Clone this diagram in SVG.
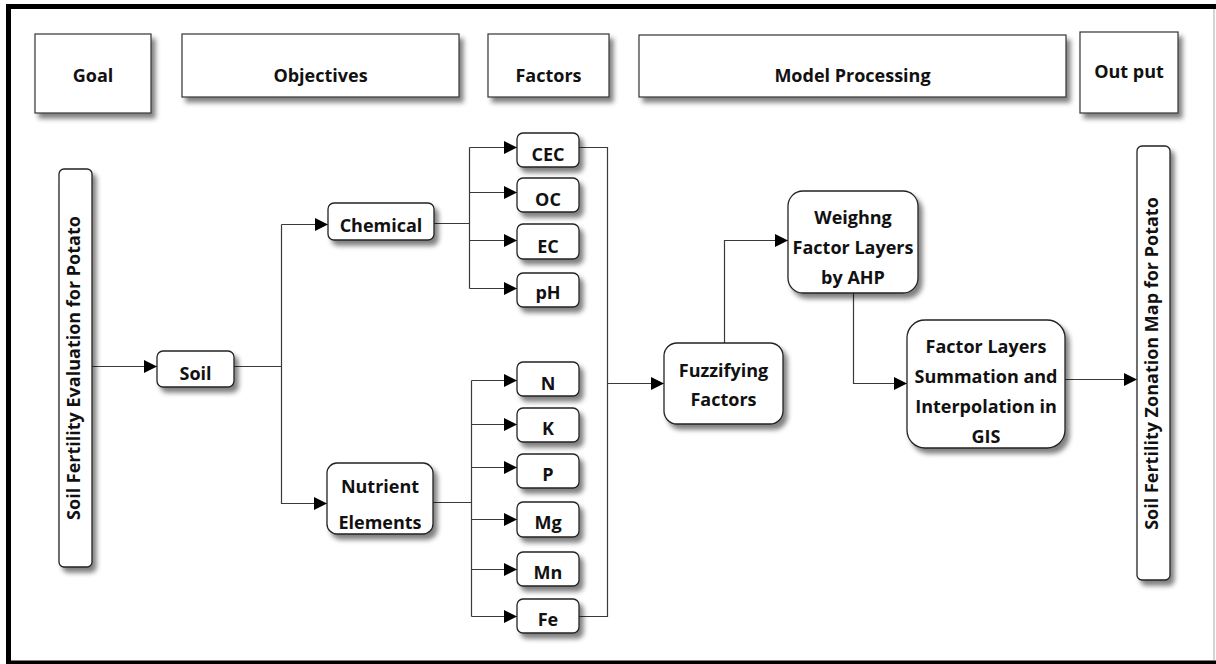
<svg xmlns="http://www.w3.org/2000/svg" width="1216" height="664" viewBox="0 0 1216 664">
<style>
.hdr{fill:#fff;stroke:#333;stroke-width:1.2;filter:url(#sh)}
.nd{fill:#fff;stroke:#222;stroke-width:1.3;filter:url(#sh)}
.t{font-family:"Open Sans","Noto Sans","Liberation Sans",sans-serif;font-weight:bold;font-size:18px;fill:#111;text-anchor:middle}
.c{fill:none;stroke:#3a3a3a;stroke-width:1.2}
</style>
<defs>
<filter id="sh" x="-20%" y="-20%" width="150%" height="150%">
<feGaussianBlur in="SourceAlpha" stdDeviation="2.5"/>
<feOffset dx="4" dy="5" result="b"/>
<feComponentTransfer><feFuncA type="linear" slope="0.5"/></feComponentTransfer>
<feMerge><feMergeNode/><feMergeNode in="SourceGraphic"/></feMerge>
</filter>
<marker id="ar" markerUnits="userSpaceOnUse" markerWidth="14" markerHeight="14" refX="13" refY="6.5" orient="auto">
<path d="M0,0 L13,6.5 L0,13 z" fill="#000"/>
</marker>
</defs>
<rect width="1216" height="664" fill="#fff"/>
<rect x="8.5" y="6.5" width="1214" height="656.5" fill="none" stroke="#000" stroke-width="5"/>
<line x1="1214" y1="9" x2="1214" y2="660" stroke="#aaa" stroke-width="1"/>

<g id="hdr-goal"><rect class="hdr" x="35" y="34" width="116" height="79"/><text class="t" x="93" y="82">Goal</text></g>
<g id="hdr-objectives"><rect class="hdr" x="182" y="34" width="277" height="63"/><text class="t" x="320.5" y="82">Objectives</text></g>
<g id="hdr-factors"><rect class="hdr" x="488" y="34" width="121" height="63"/><text class="t" x="548.5" y="82">Factors</text></g>
<g id="hdr-model"><rect class="hdr" x="639" y="35" width="427" height="62"/><text class="t" x="852.5" y="82">Model Processing</text></g>
<g id="hdr-output"><rect class="hdr" x="1080" y="32" width="98" height="81"/><text class="t" x="1129" y="78">Out put</text></g>

<g id="connectors">
<line class="c" x1="92" y1="366.5" x2="157" y2="366.5" marker-end="url(#ar)"/>
<polyline class="c" points="234,366.5 281.5,366.5"/>
<polyline class="c" points="281.5,224.5 281.5,503.5 327,503.5" marker-end="url(#ar)"/>
<line class="c" x1="281.5" y1="224.5" x2="328" y2="224.5" marker-end="url(#ar)"/>
<polyline class="c" points="434,223.5 469.5,223.5"/>
<line class="c" x1="469.5" y1="147.5" x2="469.5" y2="288.5"/>
<line class="c" x1="469.5" y1="147.5" x2="517" y2="147.5" marker-end="url(#ar)"/>
<line class="c" x1="469.5" y1="192.5" x2="517" y2="192.5" marker-end="url(#ar)"/>
<line class="c" x1="469.5" y1="240.5" x2="517" y2="240.5" marker-end="url(#ar)"/>
<line class="c" x1="469.5" y1="288.5" x2="517" y2="288.5" marker-end="url(#ar)"/>
<polyline class="c" points="433,502.5 471.5,502.5"/>
<line class="c" x1="471.5" y1="380.5" x2="471.5" y2="616.5"/>
<line class="c" x1="471.5" y1="380.5" x2="517" y2="380.5" marker-end="url(#ar)"/>
<line class="c" x1="471.5" y1="424.5" x2="517" y2="424.5" marker-end="url(#ar)"/>
<line class="c" x1="471.5" y1="467.5" x2="517" y2="467.5" marker-end="url(#ar)"/>
<line class="c" x1="471.5" y1="519.5" x2="517" y2="519.5" marker-end="url(#ar)"/>
<line class="c" x1="471.5" y1="569.5" x2="517" y2="569.5" marker-end="url(#ar)"/>
<line class="c" x1="471.5" y1="616.5" x2="517" y2="616.5" marker-end="url(#ar)"/>
<polyline class="c" points="579,147.5 607.5,147.5 607.5,616.5 578,616.5"/>
<line class="c" x1="607.5" y1="383.5" x2="664" y2="383.5" marker-end="url(#ar)"/>
<polyline class="c" points="724.5,343 724.5,240.5 788,240.5" marker-end="url(#ar)"/>
<polyline class="c" points="853.5,293 853.5,383.5 907,383.5" marker-end="url(#ar)"/>
<line class="c" x1="1065" y1="379.5" x2="1137" y2="379.5" marker-end="url(#ar)"/>
</g>

<g id="goal"><rect class="nd" x="59" y="169" width="33" height="398" rx="5"/><text class="t" transform="translate(80,368) rotate(-90)">Soil Fertility Evaluation for Potato</text></g>
<g id="soil"><rect class="nd" x="157" y="351" width="77" height="36" rx="6"/><text class="t" x="195.5" y="380">Soil</text></g>
<g id="chemical"><rect class="nd" x="328" y="203" width="106" height="37" rx="6"/><text class="t" x="381" y="232">Chemical</text></g>
<g id="nutrient"><rect class="nd" x="327" y="463" width="106" height="71" rx="10"/><text class="t" x="380" y="493">Nutrient</text><text class="t" x="380" y="529">Elements</text></g>
<g id="cec"><rect class="nd" x="517" y="133" width="62" height="34" rx="6"/><text class="t" x="548" y="161">CEC</text></g>
<g id="oc"><rect class="nd" x="517" y="178" width="62" height="34" rx="6"/><text class="t" x="548" y="206">OC</text></g>
<g id="ec"><rect class="nd" x="517" y="224" width="62" height="35" rx="6"/><text class="t" x="548" y="252.5">EC</text></g>
<g id="ph"><rect class="nd" x="517" y="273" width="62" height="34" rx="6"/><text class="t" x="548" y="299">pH</text></g>
<g id="n"><rect class="nd" x="517" y="362" width="62" height="34" rx="6"/><text class="t" x="548" y="390">N</text></g>
<g id="k"><rect class="nd" x="517" y="408" width="62" height="34" rx="6"/><text class="t" x="548" y="435">K</text></g>
<g id="p"><rect class="nd" x="517" y="454" width="62" height="34" rx="6"/><text class="t" x="548" y="481">P</text></g>
<g id="mg"><rect class="nd" x="517" y="502" width="62" height="35" rx="6"/><text class="t" x="548" y="529">Mg</text></g>
<g id="mn"><rect class="nd" x="517" y="552" width="62" height="34" rx="6"/><text class="t" x="548" y="579">Mn</text></g>
<g id="fe"><rect class="nd" x="517" y="599" width="62" height="34" rx="6"/><text class="t" x="548" y="626">Fe</text></g>
<g id="fuzzify"><rect class="nd" x="664" y="343" width="119" height="81" rx="13"/><text class="t" x="723.5" y="377">Fuzzifying</text><text class="t" x="723.5" y="405.5">Factors</text></g>
<g id="weigh"><rect class="nd" x="788" y="191" width="130" height="102" rx="15"/><text class="t" x="853" y="224">Weighng</text><text class="t" x="853" y="254">Factor Layers</text><text class="t" x="853" y="284">by AHP</text></g>
<g id="sum"><rect class="nd" x="907" y="320" width="158" height="128" rx="18"/><text class="t" x="986" y="353">Factor Layers</text><text class="t" x="986" y="383">Summation and</text><text class="t" x="986" y="413">Interpolation in</text><text class="t" x="986" y="443">GIS</text></g>
<g id="output"><rect class="nd" x="1137" y="146" width="33" height="434" rx="5"/><text class="t" transform="translate(1158,363.5) rotate(-90)">Soil Fertility Zonation Map for Potato</text></g>
</svg>
